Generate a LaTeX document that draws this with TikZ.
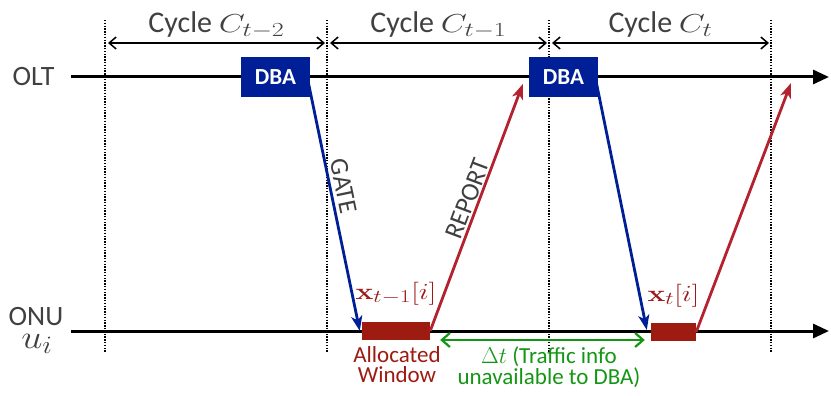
\IfFileExists{fix-cm.sty}{\RequirePackage{fix-cm}}{}
\documentclass[tikz,border=0pt]{standalone}
\usepackage[no-math]{fontspec}
\setmainfont{Carlito}
\usepackage{color}
\usepackage{tikz}
\usetikzlibrary{arrows.meta,positioning,calc}

\definecolor{txtgray}{RGB}{64,64,64}
\definecolor{dbablue}{RGB}{0,30,150}
\definecolor{winred}{RGB}{158,27,17}
\definecolor{repred}{RGB}{180,34,48}
\definecolor{lblred}{RGB}{155,25,25}
\definecolor{infogreen}{RGB}{20,150,20}

\DeclareMathSizes{26}{26}{20}{15}
\DeclareMathSizes{23}{23}{18}{14}
\DeclareMathSizes{33}{33}{25}{19}
\newcommand{\wmath}[2][1.3]{\scalebox{#1}[1]{$#2$}}

\tikzset{
  axis/.style={line width=3pt,-{Triangle[length=16pt,width=14pt]}},
  vline/.style={line width=1.4pt,dash pattern=on 1.4pt off 1.4pt},
  cyc/.style={line width=1.5pt,{Straight Barb[length=7pt,width=12pt]}-{Straight Barb[length=7pt,width=12pt]}},
  gate/.style={draw=dbablue,line width=2.8pt,-{Stealth[length=15pt,width=11pt,inset=4pt]}},
  report/.style={draw=repred,line width=2.8pt,-{Stealth[length=15pt,width=11pt,inset=4pt]}},
  delta/.style={draw=infogreen,line width=2.2pt,{Straight Barb[length=8pt,width=14pt]}-{Straight Barb[length=8pt,width=14pt]}},
  dba/.style={fill=dbablue,text=white,minimum width=69pt,minimum height=40pt,inner sep=0pt,font=\fontsize{23}{25}\selectfont\bfseries},
  win/.style={fill=winred,minimum height=18pt,inner sep=0pt},
  cyclbl/.style={text=txtgray,font=\fontsize{30}{32}\selectfont},
  side/.style={text=txtgray,font=\fontsize{28}{30}\selectfont},
  msg/.style={text=txtgray,font=\fontsize{26}{28}\selectfont},
  xlbl/.style={text=lblred,font=\fontsize{23}{25}\selectfont},
  note/.style={align=center,inner sep=0pt,font=\fontsize{23}{20}\selectfont}
}

\begin{document}
\begin{tikzpicture}[x=1pt,y=-1pt]
  \useasboundingbox (0,0) rectangle (831,396);

  \foreach \x [count=\i] in {105,327,549,771} {
    \coordinate (top\i) at (\x,20);
    \coordinate (bot\i) at (\x,353);
    \draw[vline] (top\i) -- (bot\i);
  }

  \coordinate (oltA) at (71,77);
  \coordinate (oltB) at (829,77);
  \coordinate (onuA) at (71,331);
  \coordinate (onuB) at (829,331);
  \draw[axis] (oltA) -- (oltB);
  \draw[axis] (onuA) -- (onuB);

  \node[side,anchor=east] (olt) at (58,77) {OLT};
  \node[side,anchor=base] (onu) at (36,325) {ONU};
  \node[side,anchor=base,font=\fontsize{33}{35}\selectfont] (ui) at (37,348) {\wmath[1.15]{u_i}};

  \foreach \i/\j/\lab in {1/2/{t-2},2/3/{t-1},3/4/t} {
    \draw[cyc] ($(top\i)+(3,23)$) -- ($(top\j)+(-2,23)$)
      node[cyclbl,midway,anchor=base,yshift=10pt] (cyc\i) {Cycle {\fontsize{26}{28}\selectfont\wmath{C_{\lab}}}};
  }

  \node[dba] (dba1) at (275.5,77) {DBA};
  \node[dba] (dba2) at (563.5,77) {DBA};
  \node[win,minimum width=68pt] (win1) at (396,331) {};
  \node[win,minimum width=45pt] (win2) at (673.5,332) {};
  \coordinate (rep2) at (791,83);

  \draw[gate] ([xshift=-3pt]dba1.east) -- ([xshift=-2pt]win1.west)
    node[msg,pos=0.44,sloped,above] (gatelbl) {GATE};
  \draw[report] (win1.east) -- ([xshift=-6pt,yshift=-7pt]dba2.west)
    node[msg,pos=0.52,sloped,above,yshift=-2pt] (replbl) {REPORT};
  \draw[gate] ([xshift=-3pt]dba2.east) -- ([xshift=-4pt,yshift=2pt]win2.west);
  \draw[report] (win2.east) -- (rep2);

  \node[xlbl,anchor=base] (xprev) at ($(win1.center)+(0,-32)$) {\wmath{\mathbf{x}_{t-1}[i]}};
  \node[xlbl,anchor=base] (xcur) at ($(win2.center)+(0,-31)$) {\wmath{\mathbf{x}_{t}[i]}};

  \coordinate (dA) at ($(win1.east)+(10,9)$);
  \coordinate (dB) at ($(win2.west)+(-6,8)$);
  \draw[delta] (dA) -- (dB);

  \node[note,text=winred,anchor=north] (alloc) at (397,346) {Allocated\\Window};
  \node[note,text=infogreen,anchor=north] (info) at (549,346) {$\Delta t$ (Traffic info\\unavailable to DBA)};
\end{tikzpicture}
\end{document}
